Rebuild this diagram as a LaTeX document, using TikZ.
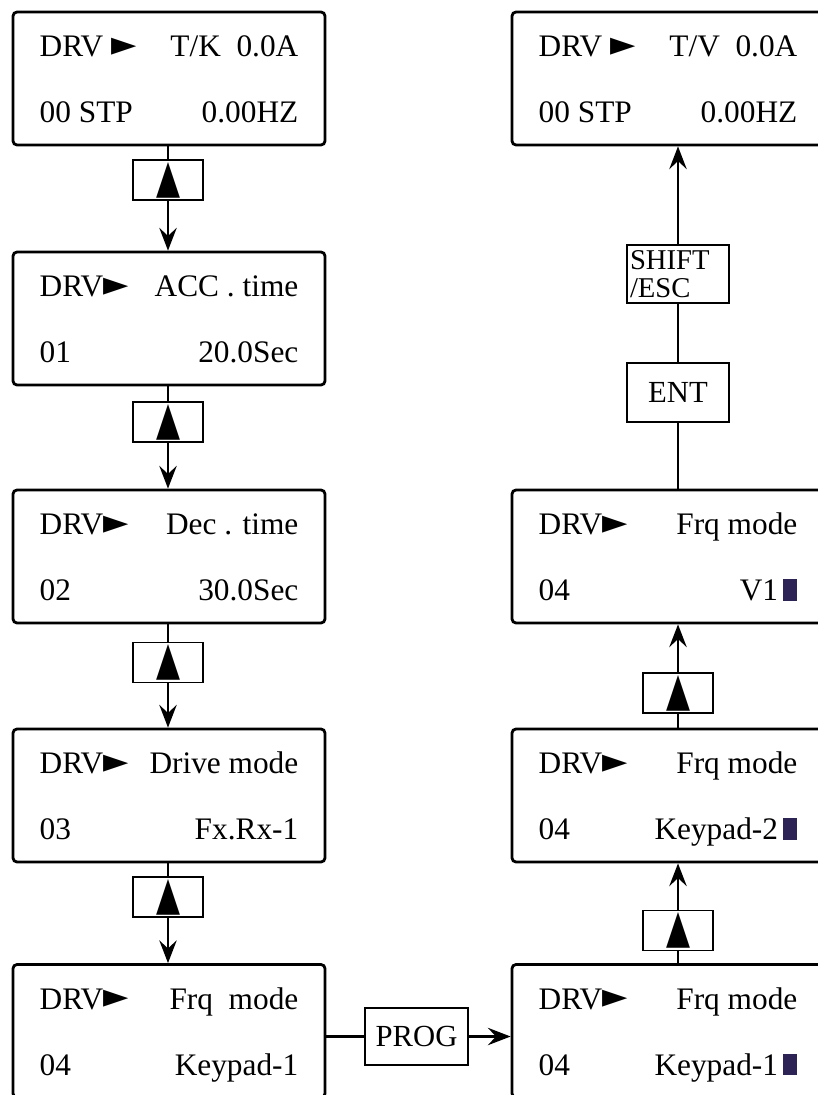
\documentclass[tikz,border=0pt]{standalone}
\usepackage{fontspec}
\setmainfont{Liberation Serif}
\newfontfamily\symfont{DejaVu Sans}
\usepackage{graphicx}
\usetikzlibrary{arrows.meta,positioning}
\definecolor{cursor}{RGB}{45,35,85}
\newcommand{\pointer}{\raisebox{1pt}{\resizebox{19pt}{13pt}{\symfont ►}}}
\newcommand{\keyup}{\resizebox{18pt}{22.5pt}{\symfont ▲}}
\newcommand{\cursorblock}{\textcolor{cursor}{\rule{10.5pt}{16pt}}}
\newcommand{\screentext}[4]{\begin{tabular*}{194pt}{@{}l@{\extracolsep{\fill}}r@{}}\rule{0pt}{25pt}#1 & #2\\[22pt] #3 & #4\end{tabular*}}

\begin{document}
\begin{tikzpicture}[x=0.75pt,y=-0.75pt,
    screen/.style={rectangle,draw,line width=2.1pt,rounded corners=3pt,inner sep=0pt,minimum width=234pt,minimum height=99.75pt,font=\fontsize{23.5}{27.6}\selectfont},
    key/.style={rectangle,draw,line width=1.4pt,inner sep=1pt,minimum width=52pt,minimum height=30pt,font=\fontsize{23}{19}\selectfont},
    link/.style={line width=2pt},
    move/.style={link,-{Stealth[length=17pt,width=13pt,inset=6pt]}}]

    \useasboundingbox (0,0) rectangle (817,1095);

    % left column
    \node[screen] at (169,78.5) (tk) {\screentext{DRV\ \pointer}{T/K~~0.0A}{00 STP}{0.00HZ}};
    \node[screen] at (169,318.5) (acc) {\screentext{DRV\pointer}{ACC . time}{01}{20.0Sec}};
    \node[screen] at (169,556.5) (dec) {\screentext{DRV\pointer}{Dec . time}{02}{30.0Sec}};
    \node[screen] at (169,795.5) (drive) {\screentext{DRV\pointer}{Drive mode}{03}{Fx.Rx-1}};
    \node[screen] at (169,1031) (frql) {\screentext{DRV\pointer}{Frq~~mode}{04}{Keypad-1}};

    \node[key] at (168,180) (lk1) {\keyup};
    \node[key] at (168,422) (lk2) {\keyup};
    \node[key] at (168,662.5) (lk3) {\keyup};
    \node[key] at (168,897) (lk4) {\keyup};

    \draw[link] (tk.south -| lk1) -- (lk1.north);
    \draw[move] (lk1.south) -- (acc.north -| lk1);
    \draw[link] (acc.south -| lk2) -- (lk2.north);
    \draw[move] (lk2.south) -- (dec.north -| lk2);
    \draw[link] (dec.south -| lk3) -- (lk3.north);
    \draw[move] (lk3.south) -- (drive.north -| lk3);
    \draw[link] (drive.south -| lk4) -- (lk4.north);
    \draw[move] (lk4.south) -- (frql.north -| lk4);

    % PROG
    \node[key,minimum width=77pt,minimum height=43pt] at (416.5,1036.5) (prog) {PROG};
    \draw[link] (prog.west -| frql.east) -- (prog.west);

    % right column
    \node[screen] at (668,78.5) (tv) {\screentext{DRV\ \pointer}{T/V~~0.0A}{00 STP}{0.00HZ}};
    \node[screen] at (668,556.5) (v1) {\screentext{DRV\pointer}{Frq mode}{04}{V1\,\cursorblock}};
    \node[screen] at (668,795.5) (kp2) {\screentext{DRV\pointer}{Frq mode}{04}{Keypad-2\,\cursorblock}};
    \node[screen] at (668,1031) (frqr) {\screentext{DRV\pointer}{Frq mode}{04}{Keypad-1\,\cursorblock}};

    \draw[move] (prog.east) -- (prog.east -| frqr.west);

    \node[key] at (678,930.5) (rk2) {\keyup};
    \node[key] at (678,693) (rk1) {\keyup};
    \node[key,minimum width=76.5pt,minimum height=44pt] at (678,392.5) (ent) {ENT};
    \node[key,minimum width=76.5pt,minimum height=43.5pt,text width=72pt,align=left,font=\fontsize{21.5}{20.5}\selectfont] at (678,274) (esc) {SHIFT\\/ESC};

    \draw[link] (frqr.north -| rk2) -- (rk2.south);
    \draw[move] (rk2.north) -- (kp2.south -| rk2);
    \draw[link] (kp2.north -| rk1) -- (rk1.south);
    \draw[move] (rk1.north) -- (v1.south -| rk1);
    \draw[link] (v1.north -| ent) -- (ent.south);
    \draw[link] (ent.north) -- (esc.south);
    \draw[move] (esc.north) -- (tv.south -| esc);
\end{tikzpicture}
\end{document}
